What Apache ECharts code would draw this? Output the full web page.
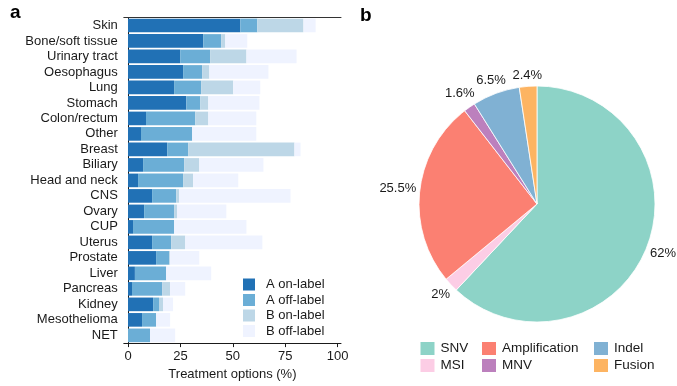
<!DOCTYPE html>
<html>
<head>
<meta charset="utf-8">
<script src="https://cdn.jsdelivr.net/npm/echarts@6/dist/echarts.min.js"></script>
<style>
  html, body { margin: 0; padding: 0; background: #fff; }
  #chart { width: 677px; height: 386px; }
</style>
</head>
<body>
<div id="chart"></div>
<script>
// Panel a: treatment options per tumour type (stacked, %)
const cancerTypes = ['Skin', 'Bone/soft tissue', 'Urinary tract', 'Oesophagus', 'Lung', 'Stomach',
  'Colon/rectum', 'Other', 'Breast', 'Biliary', 'Head and neck', 'CNS', 'Ovary', 'CUP', 'Uterus',
  'Prostate', 'Liver', 'Pancreas', 'Kidney', 'Mesothelioma', 'NET'];
const aOnLabel  = [53.6, 35.9, 24.9, 26.3, 22.0, 27.8, 8.6, 6.2, 18.7, 7.2, 4.8, 11.5, 7.7, 2.4, 11.5, 13.4, 3.3, 1.9, 12.0, 6.7, 0];
const aOffLabel = [8.1, 8.6, 14.3, 9.1, 12.9, 6.7, 23.5, 24.4, 10.0, 19.6, 21.5, 11.5, 14.3, 19.6, 9.1, 6.2, 14.9, 14.4, 2.8, 6.7, 10.5];
const bOnLabel  = [22.0, 1.9, 17.3, 3.4, 15.3, 3.8, 6.2, 0, 50.7, 7.2, 4.8, 1.4, 1.4, 0, 6.7, 0.5, 0, 3.8, 1.9, 0, 0];
const bOffLabel = [5.8, 10.5, 23.9, 28.2, 12.9, 24.4, 22.9, 30.6, 2.9, 30.6, 21.5, 53.1, 23.5, 34.5, 36.8, 13.9, 21.5, 7.2, 4.8, 6.7, 12.0];
const xTicks = [0, 25, 50, 75, 100];

// Panel b: variant classes
const variantNames  = ['SNV', 'MSI', 'Amplification', 'MNV', 'Indel', 'Fusion'];
const variantValues = [62, 2, 25.5, 1.6, 6.5, 2.4];

const barColors = ['#2171b5', '#6baed6', '#bdd7e7', '#eff3ff'];
const barNames = ['A on-label', 'A off-label', 'B on-label', 'B off-label'];
const barData = [aOnLabel, aOffLabel, bOnLabel, bOffLabel];
const variantColors = {
  'SNV': '#8dd3c7', 'MSI': '#fccde5', 'Amplification': '#fb8072',
  'MNV': '#bc80bd', 'Indel': '#80b1d3', 'Fusion': '#fdb462'
};

const FONT = '"Liberation Sans", Arial, Helvetica, sans-serif';
const INK = '#1a1a1a';
const PIE_CX = 537, PIE_CY = 204, PIE_R = 118;

const chart = echarts.init(document.getElementById('chart'), null, { renderer: 'canvas' });

const barSeries = barNames.map((name, i) => ({
  name: name,
  type: 'bar',
  stack: 'options',
  xAxisIndex: 0,
  yAxisIndex: 0,
  barCategoryGap: '12%',
  itemStyle: { color: barColors[i] },
  emphasis: { disabled: true },
  data: barData[i]
}));

const totalVariants = variantValues.reduce((a, b) => a + b, 0);

const option = {
  animation: false,
  textStyle: { fontFamily: FONT, color: INK },
  title: [
    { text: 'a', left: 10, top: 3, padding: 0, textStyle: { fontFamily: FONT, fontSize: 19, fontWeight: 'bold', color: '#000' } },
    { text: 'b', left: 360, top: 6, padding: 0, textStyle: { fontFamily: FONT, fontSize: 19, fontWeight: 'bold', color: '#000' } }
  ],
  grid: [{ left: 123.8, top: 17.7, width: 217.2, height: 328, containLabel: false }],
  xAxis: [
    {
      type: 'value', gridIndex: 0, position: 'bottom',
      min: -2, max: 101.6,
      splitLine: { show: false },
      axisLine: { show: true, lineStyle: { color: INK, width: 1 } },
      axisTick: { show: true, length: 4, lineStyle: { color: INK }, customValues: xTicks },
      axisLabel: { fontFamily: FONT, fontSize: 13, color: INK, margin: 7, customValues: xTicks },
      name: 'Treatment options (%)', nameLocation: 'middle', nameGap: 24,
      nameTextStyle: { fontFamily: FONT, fontSize: 13, color: INK }
    },
    {
      type: 'value', gridIndex: 0, position: 'top',
      min: -2, max: 101.6,
      splitLine: { show: false },
      axisLine: { show: true, lineStyle: { color: '#333', width: 1 } },
      axisTick: { show: false }, axisLabel: { show: false }
    }
  ],
  yAxis: [{
    type: 'category', gridIndex: 0, inverse: true, data: cancerTypes,
    axisLine: { show: true, lineStyle: { color: INK, width: 1 } },
    axisTick: { show: false },
    axisLabel: { interval: 0, fontFamily: FONT, fontSize: 13, color: INK, margin: 6 }
  }],
  legend: [
    {
      data: barNames, orient: 'vertical', left: 243, top: 278, padding: 0,
      itemWidth: 12, itemHeight: 12, itemGap: 2.5, icon: 'rect', selectedMode: false,
      textStyle: { fontFamily: FONT, fontSize: 13, color: INK, lineHeight: 12, padding: [0, 0, 0, 6] }
    },
    {
      data: ['SNV', 'MSI'], orient: 'vertical', left: 418.5, top: 340, padding: 0,
      itemWidth: 16, itemHeight: 15, itemGap: 0, icon: 'rect', selectedMode: false,
      textStyle: { fontFamily: FONT, fontSize: 13.5, color: INK, lineHeight: 15 }
    },
    {
      data: ['Amplification', 'MNV'], orient: 'vertical', left: 480, top: 340, padding: 0,
      itemWidth: 16, itemHeight: 15, itemGap: 0, icon: 'rect', selectedMode: false,
      textStyle: { fontFamily: FONT, fontSize: 13.5, color: INK, lineHeight: 15 }
    },
    {
      data: ['Indel', 'Fusion'], orient: 'vertical', left: 592, top: 340, padding: 0,
      itemWidth: 16, itemHeight: 15, itemGap: 0, icon: 'rect', selectedMode: false,
      textStyle: { fontFamily: FONT, fontSize: 13.5, color: INK, lineHeight: 15 }
    }
  ],
  series: barSeries.concat([{
    name: 'Variants',
    type: 'pie',
    center: [PIE_CX, PIE_CY],
    radius: PIE_R,
    startAngle: 90,
    clockwise: true,
    avoidLabelOverlap: false,
    itemStyle: { borderColor: '#fff', borderWidth: 0.8 },
    emphasis: { disabled: true },
    label: {
      show: true, position: 'outside',
      fontFamily: FONT, fontSize: 13, color: INK,
      formatter: p => p.value + '%'
    },
    labelLine: { show: false, length: 0, length2: 0 },
    // place each percentage just beyond the rim, centred on the slice's mid-angle
    labelLayout: function (p) {
      const i = p.dataIndex;
      let before = 0;
      for (let k = 0; k < i; k++) before += variantValues[k];
      const mid = (before + variantValues[i] / 2) / totalVariants * 2 * Math.PI;
      const dx = Math.sin(mid), dy = -Math.cos(mid);
      const w = p.labelRect.width, h = p.labelRect.height;
      const r = PIE_R + 3 + Math.abs(dx) * w / 2 + Math.abs(dy) * h / 2;
      return { x: PIE_CX + dx * r, y: PIE_CY + dy * r, align: 'center', verticalAlign: 'middle' };
    },
    data: variantNames.map((n, i) => ({ name: n, value: variantValues[i], itemStyle: { color: variantColors[n] } }))
  }])
};

chart.setOption(option);
</script>
</body>
</html>
